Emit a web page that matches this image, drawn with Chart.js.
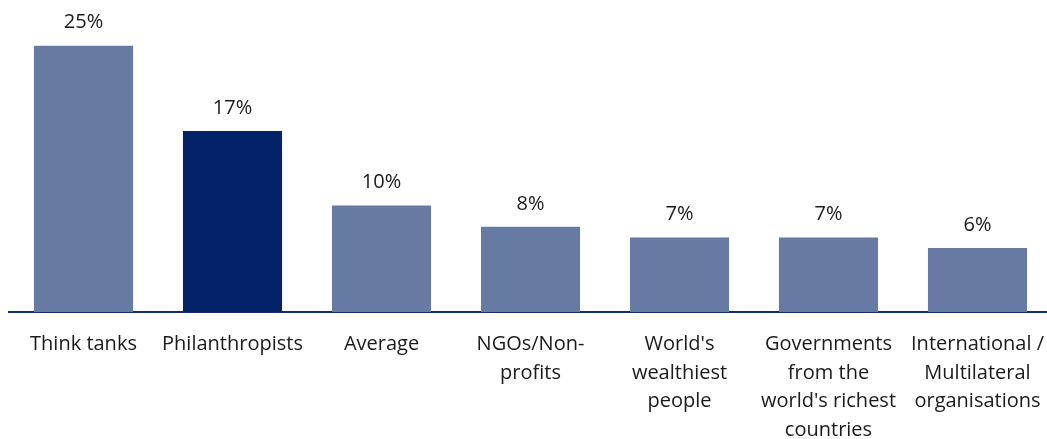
<!DOCTYPE html>
<html>
<head>
<meta charset="utf-8">
<script src="https://cdn.jsdelivr.net/npm/chart.js@4/dist/chart.umd.min.js"></script>
<style>
html,body{margin:0;padding:0;background:#fff;overflow:hidden;}
canvas{display:block;}
</style>
</head>
<body>
<canvas id="chartBars" width="1052" height="439"></canvas>
<script>
const categories=[
  ['Think tanks'],
  ['Philanthropists'],
  ['Average'],
  ['NGOs/Non-','profits'],
  ["World's",'wealthiest','people'],
  ['Governments','from the',"world's richest",'countries'],
  ['International /','Multilateral','organisations']
];
const values=[25,17,10,8,7,7,6];
const highlight='Philanthropists';

const C={light:'#677AA4',dark:'#032268',axis:'#112F6E',text:'#1A1A1A'};
const FONT="'Open Sans', 'Noto Sans', sans-serif";

const valueLabels={
  id:'valueLabels',
  afterDatasetsDraw(chart){
    const ctx=chart.ctx;
    const meta=chart.getDatasetMeta(0);
    ctx.save();
    ctx.font='20px '+FONT;
    ctx.fillStyle=C.text;
    ctx.textAlign='center';
    ctx.textBaseline='middle';
    meta.data.forEach((bar,i)=>{
      ctx.fillText(values[i]+'%',bar.x,bar.y-23);
    });
    ctx.restore();
  }
};

new Chart(document.getElementById('chartBars'),{
  type:'bar',
  data:{labels:categories,datasets:[{
    data:values,
    backgroundColor:categories.map(c=>c[0]===highlight?C.dark:C.light),
    borderWidth:0,barPercentage:0.665,categoryPercentage:1
  }]},
  options:{
    responsive:false,animation:false,devicePixelRatio:1,
    layout:{padding:{left:9,right:0,top:0,bottom:0}},
    plugins:{legend:{display:false},tooltip:{enabled:false}},
    scales:{
      x:{grid:{display:false,drawTicks:false},
         border:{display:true,color:C.axis,width:2},
         ticks:{color:C.text,font:{family:FONT,size:20,lineHeight:1.43},padding:18,maxRotation:0,autoSkip:false},
         afterFit(s){s.height=127;s.paddingLeft=0;s.paddingRight=0;}},
      y:{display:false,min:0,max:29.3}
    }
  },
  plugins:[valueLabels]
});
</script>
</body>
</html>
